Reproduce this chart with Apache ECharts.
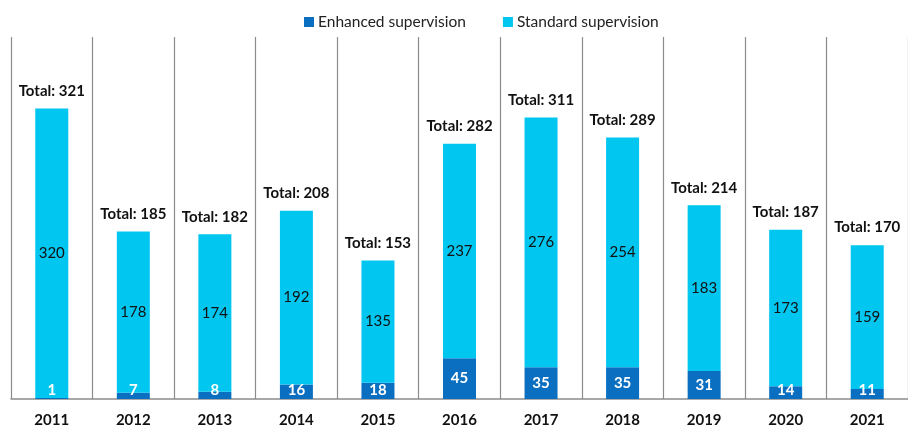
<!DOCTYPE html>
<html><head><meta charset="utf-8">
<script src="https://cdn.jsdelivr.net/npm/echarts@6/dist/echarts.min.js"></script>
<style>html,body{margin:0;padding:0;background:#fff}#c{width:908px;height:430px}</style>
</head><body><div id="c"></div>
<script>
const years = ['2011','2012','2013','2014','2015','2016','2017','2018','2019','2020','2021'];
const enhanced = [1,7,8,16,18,45,35,35,31,14,11];
const standard = [320,178,174,192,135,237,276,254,183,173,159];
const totals = [321,185,182,208,153,282,311,289,214,187,170];

const FONT = 'Lato';
const chart = echarts.init(document.getElementById('c'), null, {renderer:'canvas'});
chart.setOption({
  animation:false,
  textStyle:{fontFamily:FONT},
  legend:{
    top:9, left:299, itemWidth:10, itemHeight:10, itemGap:37,
    icon:'rect',
    data:['Enhanced supervision','Standard supervision'],
    textStyle:{fontFamily:FONT, fontSize:15.5, color:'#222', padding:[0,0,0,-1]}
  },
  grid:{left:11, right:-2, top:37, bottom:31},
  xAxis:{
    type:'category', data:years, boundaryGap:true,
    axisLine:{lineStyle:{color:'#8c8c8c', width:1.5}},
    axisTick:{show:false},
    axisLabel:{fontFamily:FONT, fontSize:15, fontWeight:'bold', color:'#111', margin:14},
    splitLine:{show:true, lineStyle:{color:'#8c8c8c', width:1.2}}
  },
  yAxis:{type:'value', min:0, max:400, show:false, splitLine:{show:false}},
  series:[
    {
      name:'Enhanced supervision', type:'bar', stack:'s', barWidth:33,
      itemStyle:{color:'#0a6fc0'},
      data: enhanced.map(v=>({value:v, label: v<20 ? {position:'insideBottom', distance:1} : {position:'inside'}})),
      label:{show:true, color:'#fff', fontWeight:'bold', fontSize:15, fontFamily:FONT}
    },
    {
      name:'Standard supervision', type:'bar', stack:'s', barWidth:33,
      itemStyle:{color:'#00c6f0'},
      data: standard,
      label:{show:true, position:'inside', color:'#111', fontSize:15, fontFamily:FONT}
    },
    {
      name:'Total', type:'bar', stack:'s', barWidth:33,
      itemStyle:{color:'transparent'},
      data: totals.map(()=>0),
      label:{show:true, position:'top', distance:10, color:'#111', fontWeight:'bold', fontSize:15, fontFamily:FONT,
        formatter:p=>'Total: '+totals[p.dataIndex]}
    }
  ]
});
</script></body></html>
